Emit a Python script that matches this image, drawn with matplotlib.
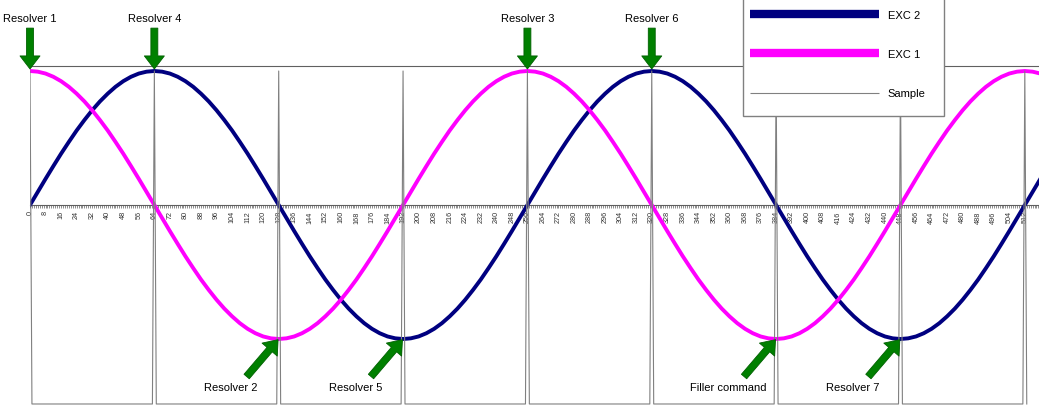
import matplotlib

matplotlib.use("Agg")
import matplotlib.pyplot as plt
import numpy as np
from matplotlib.patches import FancyArrowPatch, Rectangle
from matplotlib.ticker import MultipleLocator

plt.rcParams["font.family"] = ["Liberation Sans", "DejaVu Sans"]

# ── data ──────────────────────────────────────────────────────────────────────

step = 4  # time units between stored points
exc2 = [
    0.000, 0.098, 0.195, 0.290, 0.383, 0.471, 0.556, 0.634, 0.707,
    0.773, 0.831, 0.882, 0.924, 0.957, 0.981, 0.995, 1.000,
    0.995, 0.981, 0.957, 0.924, 0.882, 0.831, 0.773, 0.707,
    0.634, 0.556, 0.471, 0.383, 0.290, 0.195, 0.098, 0.000,
    -0.098, -0.195, -0.290, -0.383, -0.471, -0.556, -0.634, -0.707,
    -0.773, -0.831, -0.882, -0.924, -0.957, -0.981, -0.995, -1.000,
    -0.995, -0.981, -0.957, -0.924, -0.882, -0.831, -0.773, -0.707,
    -0.634, -0.556, -0.471, -0.383, -0.290, -0.195, -0.098, 0.000,
    0.098, 0.195, 0.290, 0.383, 0.471, 0.556, 0.634, 0.707,
    0.773, 0.831, 0.882, 0.924, 0.957, 0.981, 0.995, 1.000,
    0.995, 0.981, 0.957, 0.924, 0.882, 0.831, 0.773, 0.707,
    0.634, 0.556, 0.471, 0.383, 0.290, 0.195, 0.098, 0.000,
    -0.098, -0.195, -0.290, -0.383, -0.471, -0.556, -0.634, -0.707,
    -0.773, -0.831, -0.882, -0.924, -0.957, -0.981, -0.995, -1.000,
    -0.995, -0.981, -0.957, -0.924, -0.882, -0.831, -0.773, -0.707,
    -0.634, -0.556, -0.471, -0.383, -0.290, -0.195, -0.098, 0.000,
    0.098, 0.195,
]
exc1 = [
    1.000, 0.995, 0.981, 0.957, 0.924, 0.882, 0.831, 0.773, 0.707,
    0.634, 0.556, 0.471, 0.383, 0.290, 0.195, 0.098, 0.000,
    -0.098, -0.195, -0.290, -0.383, -0.471, -0.556, -0.634, -0.707,
    -0.773, -0.831, -0.882, -0.924, -0.957, -0.981, -0.995, -1.000,
    -0.995, -0.981, -0.957, -0.924, -0.882, -0.831, -0.773, -0.707,
    -0.634, -0.556, -0.471, -0.383, -0.290, -0.195, -0.098, 0.000,
    0.098, 0.195, 0.290, 0.383, 0.471, 0.556, 0.634, 0.707,
    0.773, 0.831, 0.882, 0.924, 0.957, 0.981, 0.995, 1.000,
    0.995, 0.981, 0.957, 0.924, 0.882, 0.831, 0.773, 0.707,
    0.634, 0.556, 0.471, 0.383, 0.290, 0.195, 0.098, 0.000,
    -0.098, -0.195, -0.290, -0.383, -0.471, -0.556, -0.634, -0.707,
    -0.773, -0.831, -0.882, -0.924, -0.957, -0.981, -0.995, -1.000,
    -0.995, -0.981, -0.957, -0.924, -0.882, -0.831, -0.773, -0.707,
    -0.634, -0.556, -0.471, -0.383, -0.290, -0.195, -0.098, 0.000,
    0.098, 0.195, 0.290, 0.383, 0.471, 0.556, 0.634, 0.707,
    0.773, 0.831, 0.882, 0.924, 0.957, 0.981, 0.995, 1.000,
    0.995, 0.981,
]

sample_times = [0, 64, 128, 192, 256, 320, 384, 448, 512]
sample_high = 1.0
sample_low = -1.485
sample_halfwidth = 1

top_events = [(0, "Resolver 1"), (64, "Resolver 4"), (256, "Resolver 3"), (320, "Resolver 6")]
bottom_events = [(128, "Resolver 2"), (192, "Resolver 5"), (384, "Filler command"), (448, "Resolver 7")]

NAVY = "#000080"
MAGENTA = "#ff00ff"
GREY = "#808080"
GREEN = "#008000"

# ── figure ────────────────────────────────────────────────────────────────────

W, H = 1039, 406
fig = plt.figure(figsize=(W / 100, H / 100), dpi=100)
ax = fig.add_axes([30 / W, 0, (W - 30) / W, (H - 67) / H])
ax.set_xlim(0, (W - 30) / 1.943)
ax.set_ylim(-200 / 134, 139 / 134)

t = np.arange(len(exc2)) * step
(l2,) = ax.plot(t, exc2, color=NAVY, lw=2.8, label="EXC 2", zorder=3)
(l1,) = ax.plot(t, exc1, color=MAGENTA, lw=2.8, label="EXC 1", zorder=3)

# sample pulses: narrow spikes from the low level up to the peak level
sx, sy = [], []
for s in sample_times:
    sx += [s - sample_halfwidth, s, s + sample_halfwidth]
    sy += [sample_low, sample_high, sample_low]
(ls,) = ax.plot(sx, sy, color=GREY, lw=0.8, label="Sample", zorder=4)

# axes styling: x axis through zero, top frame only
for side in ("left", "right"):
    ax.spines[side].set_visible(False)
ax.spines["top"].set_color("#606060")
ax.spines["top"].set_linewidth(0.8)
ax.spines["bottom"].set_position(("data", 0))
ax.spines["bottom"].set_color("#606060")
ax.spines["bottom"].set_linewidth(0.8)
ax.yaxis.set_visible(False)
ax.xaxis.set_major_locator(MultipleLocator(8))
ax.xaxis.set_minor_locator(MultipleLocator(1))
ax.tick_params(axis="x", which="both", direction="out", length=2.2, width=0.5,
               color="#606060", pad=1.5, labelsize=5.2, labelcolor="#333333",
               labelrotation=90)

# event arrows and labels
arrow_kw = dict(
    arrowstyle="simple,head_length=9.4,head_width=14.4,tail_width=5",
    mutation_scale=1, shrinkA=0, shrinkB=0, clip_on=False,
    facecolor=GREEN, edgecolor="#006000", lw=0.6, zorder=6,
)
for s, name in top_events:
    ax.add_patch(FancyArrowPatch((s, 1.32), (s, 1.015), **arrow_kw))
    ax.text(s, 1.395, name, ha="center", va="center", fontsize=8, clip_on=False)

for s, name in bottom_events:
    ax.add_patch(FancyArrowPatch((s - 16.5, -1.28), (s - 0.3, -1.005), **arrow_kw))
    ax.text(s - 24.5, -1.355, name, ha="center", va="center", fontsize=8)

# legend box
fig.patches.append(Rectangle((743 / W, (H - 117) / H), 201 / W, 120 / H,
                             transform=fig.transFigure, facecolor="white",
                             edgecolor=GREY, lw=1.0, zorder=2))
leg = fig.legend([l2, l1, ls], ["EXC 2", "EXC 1", "Sample"], loc="upper left",
                 bbox_to_anchor=(750 / W, 1 - 11 / H), frameon=False, fontsize=8,
                 handlelength=11.6, handletextpad=0.8, labelspacing=2.63,
                 borderpad=0, borderaxespad=0)
leg.set_zorder(3)
for line, lw in zip(leg.get_lines(), (6, 6, 0.8)):
    line.set_linewidth(lw)
    line.set_solid_capstyle("butt")

fig.savefig("out.png", dpi=100)
